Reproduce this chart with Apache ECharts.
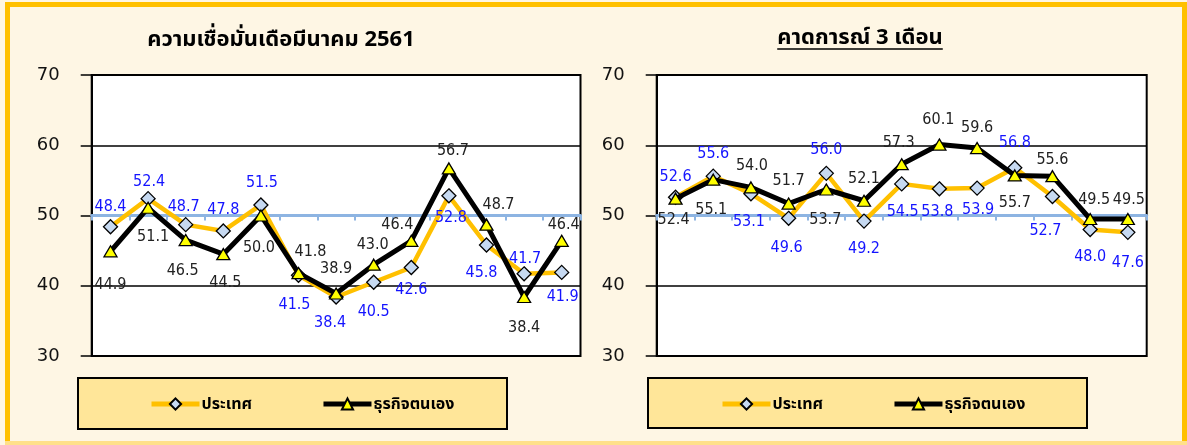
<!DOCTYPE html>
<html>
<head>
<meta charset="utf-8">
<script src="https://cdn.jsdelivr.net/npm/echarts@6/dist/echarts.min.js"></script>
<style>
body { margin: 0; }
#chart { width: 1187px; height: 445px; background: #FEF6E4; }
</style>
</head>
<body>
<div id="chart"></div>
<script>
// ข้อมูล
const categories = ['1', '2', '3', '4', '5', '6', '7', '8', '9', '10', '11', '12', '13']
const yTicks = [30, 40, 50, 60, 70]
const countryNow = [48.4, 52.4, 48.7, 47.8, 51.5, 41.5, 38.4, 40.5, 42.6, 52.8, 45.8, 41.7, 41.9]
const businessNow = [44.9, 51.1, 46.5, 44.5, 50.0, 41.8, 38.9, 43.0, 46.4, 56.7, 48.7, 38.4, 46.4]
const countryNext = [52.6, 55.6, 53.1, 49.6, 56.0, 49.2, 54.5, 53.8, 53.9, 56.8, 52.7, 48.0, 47.6]
const businessNext = [52.4, 55.1, 54.0, 51.7, 53.7, 52.1, 57.3, 60.1, 59.6, 55.7, 55.6, 49.5, 49.5]
const titleNow = 'ความเชื่อมั่นเดือมีนาคม 2561'
const titleNext = 'คาดการณ์ 3 เดือน'
const nameCountry = 'ประเทศ'
const nameBusiness = 'ธุรกิจตนเอง'

// ตำแหน่ง label (dx, dy จากจุด)
const offCountryNow = [[0, -20], [1, -17], [-2, -18], [0, -21], [1, -22], [-4, 30], [-6, 26], [0, 30], [0, 22], [2, 22], [-5, 28], [1, -15], [1, 24]]
const offBusinessNow = [[0, 34], [5, 29], [-3, 31], [2, 29], [-2, 32], [12, -21], [0, -25], [-1, -20], [-14, -16], [4, -18], [12, -20], [0, 31], [2, -16]]
const offCountryNext = [[0, -20], [0, -22], [-2, 28], [-2, 30], [0, -24], [0, 28], [1, 28], [-2, 23], [1, 22], [0, -25], [-7, 34], [0, 27], [0, 30]]
const offBusinessNext = [[-2, 21], [-2, 30], [1, -22], [0, -23], [-1, 30], [0, -22], [-3, -21], [-1, -25], [0, -20], [0, 27], [0, -16], [4, -19], [1, -19]]

const numFont = "'DejaVu Sans', Verdana, sans-serif"
const labelFont = "'DejaVu Sans Condensed', 'Liberation Sans', sans-serif"
const thaiFont = "'Noto Sans', 'Noto Sans Thai', Tahoma, sans-serif"

let myChart = echarts.init(document.getElementById('chart'))

function yAxisOf (idx) {
  return {
    gridIndex: idx,
    type: 'value',
    min: yTicks[0],
    max: yTicks[yTicks.length - 1],
    interval: 10,
    axisLine: { show: true, lineStyle: { color: '#000', width: 2 } },
    axisTick: { show: true, length: 11, lineStyle: { color: '#000', width: 1.5 } },
    splitLine: { lineStyle: { color: '#000', width: 1.5 } },
    axisLabel: { margin: 32, color: '#111', fontSize: 18, fontFamily: numFont }
  }
}

// แกน x วางที่ระดับ 50 (เส้นสีฟ้า)
function xAxisOf (idx) {
  return {
    gridIndex: idx,
    type: 'category',
    data: categories,
    boundaryGap: true,
    offset: -140.5,
    z: 1,
    axisLine: { show: true, lineStyle: { color: '#8DB4E2', width: 3 } },
    axisTick: { show: true, length: 5, lineStyle: { color: '#8DB4E2', width: 2 } },
    axisLabel: { show: false },
    splitLine: { show: false }
  }
}

function lineSeries (name, idx, values, offs, opt) {
  return {
    name: name,
    type: 'line',
    xAxisIndex: idx,
    yAxisIndex: idx,
    z: opt.z,
    data: values.map((v, i) => ({ value: v, label: { offset: offs[i] } })),
    symbol: opt.symbol,
    symbolSize: opt.size,
    lineStyle: { color: opt.line, width: opt.width },
    itemStyle: { color: opt.fill, borderColor: '#000', borderWidth: 1.3 },
    label: {
      show: true,
      position: 'inside',
      color: opt.text,
      fontSize: 16,
      fontFamily: labelFont,
      formatter: p => p.value.toFixed(1)
    },
    animation: false
  }
}

const countryStyle = { symbol: 'diamond', size: 14, line: '#FFC000', width: 4.5, fill: '#C6D9F1', text: '#1414FF', z: 2 }
const businessStyle = { symbol: 'triangle', size: [13, 11], line: '#000', width: 5, fill: '#FFFF00', text: '#222', z: 3 }

// วัดความกว้างหัวข้อขวาสำหรับขีดเส้นใต้
let ctx = document.createElement('canvas').getContext('2d')
ctx.font = 'bold 22px ' + thaiFont
const nextW = ctx.measureText(titleNext).width

function legendOf (left) {
  return {
    left: left,
    top: 396,
    padding: 0,
    itemWidth: 48,
    itemHeight: 14,
    itemGap: 69,
    lineStyle: { width: 5 },
    data: [nameCountry, nameBusiness],
    textStyle: { fontFamily: thaiFont, fontSize: 16, fontWeight: 'bold', color: '#000', padding: [0, 0, 0, -3] }
  }
}

myChart.setOption({
  animation: false,
  grid: [
    { left: 91.7, right: 606.5, top: 75, bottom: 89, show: true, backgroundColor: '#fff', borderColor: '#000', borderWidth: 2 },
    { left: 656.7, right: 40.3, top: 75, bottom: 89, show: true, backgroundColor: '#fff', borderColor: '#000', borderWidth: 2 }
  ],
  xAxis: [xAxisOf(0), xAxisOf(1)],
  yAxis: [yAxisOf(0), yAxisOf(1)],
  legend: [legendOf(149), legendOf(720)],
  graphic: [
    // กรอบสีส้ม
    { type: 'rect', z: -10, shape: { x: 5, y: 2, width: 1182, height: 5 }, style: { fill: '#FFC000' } },
    { type: 'rect', z: -10, shape: { x: 5, y: 2, width: 5, height: 443 }, style: { fill: '#FFC000' } },
    { type: 'rect', z: -10, shape: { x: 1182, y: 2, width: 5, height: 443 }, style: { fill: '#FFC000' } },
    { type: 'rect', z: -10, shape: { x: 5, y: 441, width: 1182, height: 4 }, style: { fill: '#FFE08A' } },
    // กล่อง legend
    { type: 'rect', z: -5, shape: { x: 78, y: 378, width: 429, height: 51 }, style: { fill: '#FFE699', stroke: '#000', lineWidth: 2 } },
    { type: 'rect', z: -5, shape: { x: 648, y: 378, width: 439, height: 50 }, style: { fill: '#FFE699', stroke: '#000', lineWidth: 2 } },
    // หัวข้อ
    { type: 'text', z: 5, style: { x: 281, y: 40, text: titleNow, align: 'center', verticalAlign: 'middle', font: 'bold 22px ' + thaiFont, fill: '#000' } },
    { type: 'text', z: 5, style: { x: 860, y: 38, text: titleNext, align: 'center', verticalAlign: 'middle', font: 'bold 22px ' + thaiFont, fill: '#000' } },
    { type: 'line', z: 5, shape: { x1: 860 - nextW / 2, y1: 49, x2: 860 + nextW / 2, y2: 49 }, style: { stroke: '#000', lineWidth: 1.5 } }
  ],
  series: [
    lineSeries(nameCountry, 0, countryNow, offCountryNow, countryStyle),
    lineSeries(nameBusiness, 0, businessNow, offBusinessNow, businessStyle),
    lineSeries(nameCountry, 1, countryNext, offCountryNext, countryStyle),
    lineSeries(nameBusiness, 1, businessNext, offBusinessNext, businessStyle)
  ]
})
</script>
</body>
</html>
